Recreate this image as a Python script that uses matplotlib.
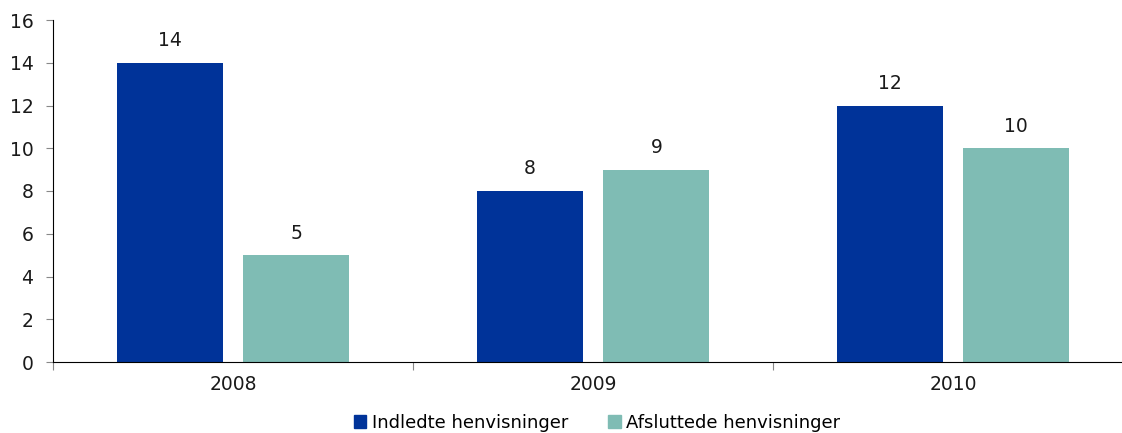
import matplotlib as mpl
mpl.use('Agg')
import matplotlib.pyplot as plt
from matplotlib.patches import Patch
import numpy as np

years = ['2008', '2009', '2010']
indledte = [14, 8, 12]
afsluttede = [5, 9, 10]
series_names = ['Indledte henvisninger', 'Afsluttede henvisninger']
yticks = [0, 2, 4, 6, 8, 10, 12, 14, 16]

blue = '#003399'
teal = '#7fbcb4'

plt.rcParams['font.family'] = ['DejaVu Sans']

fig = plt.figure(figsize=(11.22, 4.33), dpi=100)
ax = fig.add_axes([53/1122, 71/433, 1080/1122, 342/433])

x = np.arange(len(years))
w = 0.294
off = 0.176
b1 = ax.bar(x - off, indledte, w, color=blue)
b2 = ax.bar(x + off, afsluttede, w, color=teal)

for bars, vals in ((b1, indledte), (b2, afsluttede)):
    for r, v in zip(bars, vals):
        ax.annotate(str(v), (r.get_x() + r.get_width()/2, v), xytext=(0, 9),
                    textcoords='offset points', ha='center', va='bottom',
                    fontsize=13.5, color='#1a1a1a')

ax.set_xlim(-0.5, 2.5)
ax.set_ylim(0, 16)
ax.set_yticks(yticks)
ax.tick_params(axis='y', labelsize=13.5, length=5, color='#888888', pad=9, labelcolor='#1a1a1a')

ax.set_xticks([-0.5, 0.5, 1.5, 2.5])
ax.set_xticklabels([])
ax.set_xticks(x, minor=True)
ax.set_xticklabels(years, minor=True)
ax.tick_params(axis='x', which='major', length=6, color='#888888')
ax.tick_params(axis='x', which='minor', length=0, labelsize=13.5, pad=9, labelcolor='#1a1a1a')

for s in ['top', 'right']:
    ax.spines[s].set_visible(False)
ax.spines['left'].set_color('black')
ax.spines['bottom'].set_color('black')

handles = [Patch(color=blue), Patch(color=teal)]
fig.legend(handles, series_names, loc='center', bbox_to_anchor=(597/1122, 1 - 423/433),
           ncol=2, frameon=False, fontsize=13, handlelength=0.7, handleheight=0.7,
           handletextpad=0.3, columnspacing=2.2, borderaxespad=0)

fig.savefig('out.png', dpi=100)
